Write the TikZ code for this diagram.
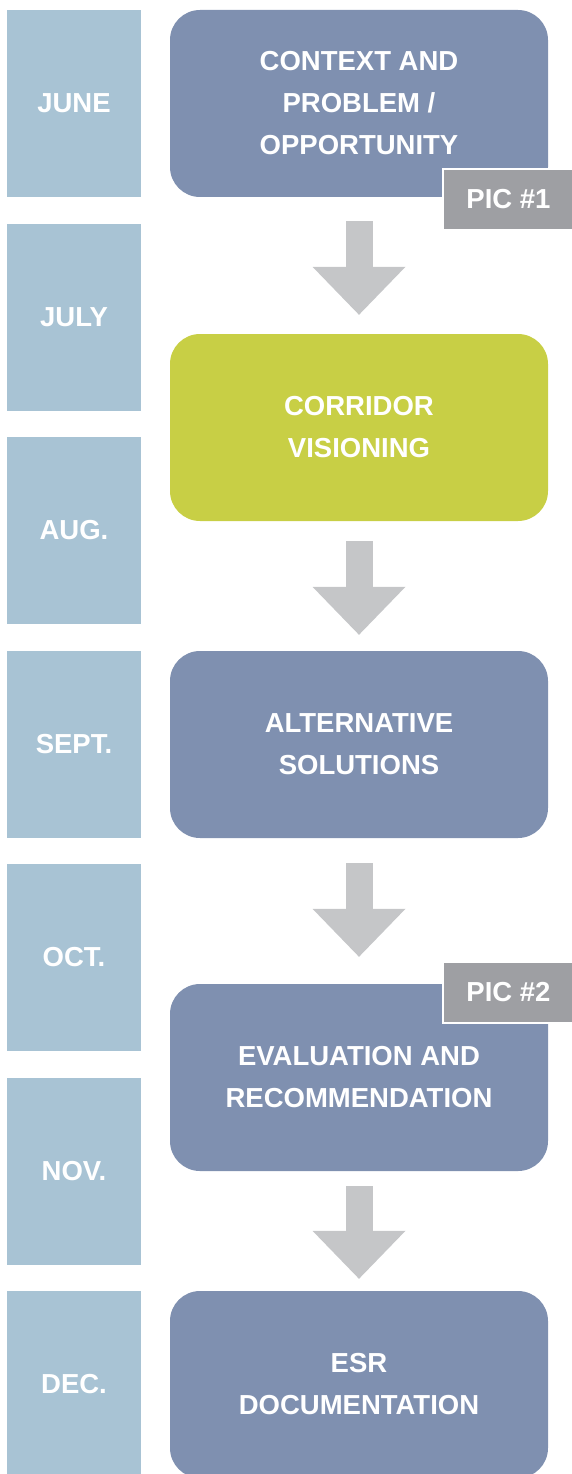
\documentclass[tikz,border=0pt]{standalone}
\usepackage{fontspec}
\setmainfont{Liberation Sans}
\usetikzlibrary{arrows.meta}

\definecolor{monthblue}{HTML}{A8C3D4}
\definecolor{stepblue}{HTML}{7F90B0}
\definecolor{stepgreen}{HTML}{C8CF45}
\definecolor{arrowgray}{HTML}{C5C6C8}
\definecolor{picgray}{HTML}{9E9FA3}

\begin{document}
\begin{tikzpicture}[x=1pt,y=-1pt,
  month/.style={fill=monthblue,text=white,font=\bfseries\fontsize{27.5}{42}\selectfont,
    minimum width=134pt,minimum height=187pt,inner sep=0pt},
  stepbox/.style={fill=stepblue,rounded corners=30pt,text=white,align=center,
    font=\bfseries\fontsize{27.5}{42}\selectfont,minimum width=378pt,minimum height=187pt,inner sep=0pt},
  badge/.style={fill=picgray,draw=white,line width=1.5pt,text=white,
    font=\bfseries\fontsize{27.5}{42}\selectfont,minimum width=131pt,minimum height=61pt,inner sep=0pt},
  flow/.style={arrowgray,line width=27pt,-{Triangle[width=93pt,length=48pt,line width=0pt]}}]

% Frame
\useasboundingbox (0,0) rectangle (572,1474);

% Columns
\def\mx{74}   % month column
\def\sx{359}  % step column

% Months
\node[month] (jun) at (\mx,103.5) {JUNE};
\node[month] (jul) at (\mx,317) {JULY};
\node[month] (aug) at (\mx,530.5) {AUG.};
\node[month] (sep) at (\mx,744) {SEPT.};
\node[month] (oct) at (\mx,957.5) {OCT.};
\node[month] (nov) at (\mx,1171) {NOV.};
\node[month] (dec) at (\mx,1384.5) {DEC.};

% Steps
\node[stepbox] (context) at (\sx,103.5) {CONTEXT AND\\PROBLEM /\\OPPORTUNITY};
\node[stepbox,fill=stepgreen] (vision) at (\sx,427.5) {CORRIDOR\\VISIONING};
\node[stepbox] (alt) at (\sx,744.5) {ALTERNATIVE\\SOLUTIONS};
\node[stepbox] (eval) at (\sx,1077.5) {EVALUATION AND\\RECOMMENDATION};
\node[stepbox] (esr) at (\sx,1384.5) {ESR\\DOCUMENTATION};

% PIC tags
\node[badge] (pic1) at (508.5,199.5) {PIC \#1};
\node[badge] (pic2) at (508.5,992.5) {PIC \#2};

% Arrows
\draw[flow,shorten <=24pt,shorten >=19pt] (context.south) -- (vision.north);
\draw[flow,shorten <=20pt,shorten >=16pt] (vision.south) -- (alt.north);
\draw[flow,shorten <=25pt,shorten >=27pt] (alt.south) -- (eval.north);
\draw[flow,shorten <=15pt,shorten >=12pt] (eval.south) -- (esr.north);

\end{tikzpicture}
\end{document}
